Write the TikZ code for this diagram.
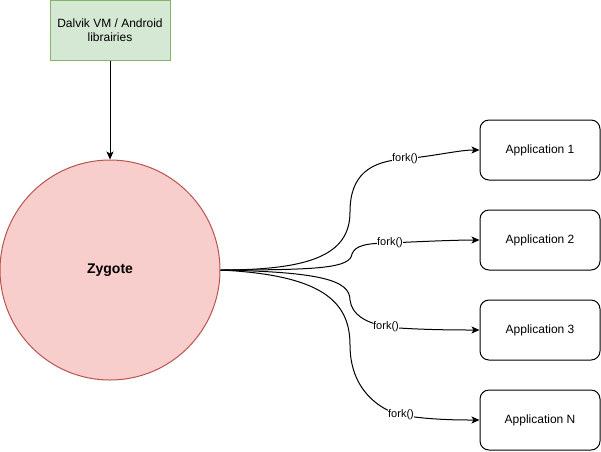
\documentclass[tikz,border=0pt]{standalone}
\usepackage{fontspec}
\setmainfont{Liberation Sans}
\usetikzlibrary{arrows.meta}
\definecolor{gfill}{HTML}{D5E8D4}
\definecolor{gline}{HTML}{82B366}
\definecolor{rfill}{HTML}{F8CECC}
\definecolor{rline}{HTML}{B85450}
\tikzset{
  box/.style={draw=black, fill=white, rounded corners=9pt, minimum width=120pt, minimum height=60pt, inner sep=0pt, line width=1pt, font=\fontsize{12}{14}\selectfont},
  libbox/.style={draw=gline, fill=gfill, minimum width=120pt, minimum height=60pt, inner sep=0pt, line width=1pt, align=center, font=\fontsize{12}{14}\selectfont},
  zyg/.style={circle, draw=rline, fill=rfill, minimum size=220pt, inner sep=0pt, line width=1pt, font=\bfseries\fontsize{14}{16}\selectfont},
  edge/.style={draw=black, line width=1pt, -{Stealth[length=8pt,width=7pt,inset=2pt]}},
  lab/.style={fill=white, inner sep=0.5pt, font=\fontsize{11}{13}\selectfont}
}
\begin{document}
\begin{tikzpicture}[x=1pt,y=-1pt]
\useasboundingbox (0,0) rectangle (601,451);
\node[libbox] (D) at (110,30) {Dalvik VM / Android\\librairies};
\node[zyg] (Z) at (110,270) {Zygote};
\node[box] (A1) at (540,150) {Application 1};
\node[box] (A2) at (540,240) {Application 2};
\node[box] (A3) at (540,330) {Application 3};
\node[box] (A4) at (540,420) {Application N};
\coordinate (l1) at (405,159);
\coordinate (l2) at (390,243);
\coordinate (l3) at (386,327);
\coordinate (l4) at (401,415);
\draw[edge] (D.south) -- (Z.north);
\draw[edge] (Z.east) .. controls (310,270) and (350,255) .. (350,212)
  .. controls (350,175) and (370,161) .. (l1)
  .. controls (440,155) and (460,150) .. (A1.west);
\draw[edge] (Z.east) .. controls (320,270) and (350,268) .. (352,254)
  .. controls (355,246) and (365,243) .. (l2)
  .. controls (430,241) and (460,240) .. (A2.west);
\draw[edge] (Z.east) .. controls (320,272) and (350,280) .. (350,300)
  .. controls (352,315) and (365,322) .. (l3)
  .. controls (420,330) and (460,330) .. (A3.west);
\draw[edge] (Z.east) .. controls (320,275) and (350,300) .. (350,345)
  .. controls (350,390) and (380,410) .. (l4)
  .. controls (430,420) and (460,420) .. (A4.west);
\node[lab] at (l1) {fork()};
\node[lab] at (l2) {fork()};
\node[lab] at (l3) {fork()};
\node[lab] at (l4) {fork()};
\end{tikzpicture}
\end{document}
